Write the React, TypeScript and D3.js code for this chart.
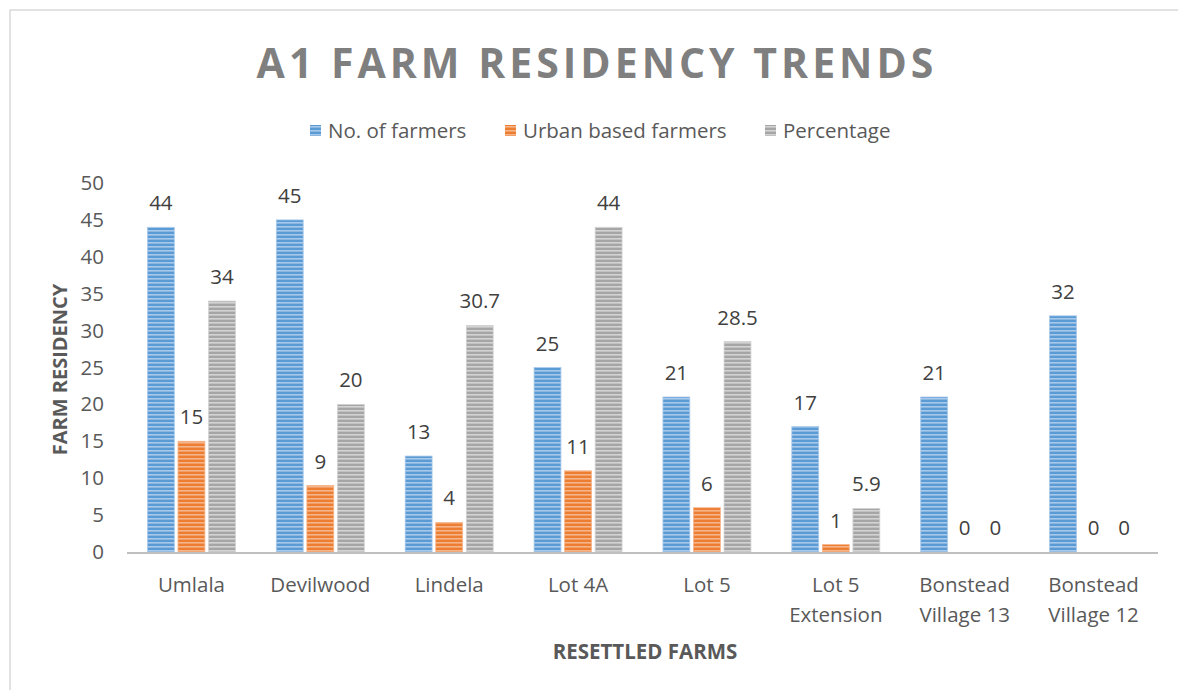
import React from "react";
import * as d3 from "d3";

const categories: string[][] = [
  ["Umlala"],
  ["Devilwood"],
  ["Lindela"],
  ["Lot 4A"],
  ["Lot 5"],
  ["Lot 5", "Extension"],
  ["Bonstead", "Village 13"],
  ["Bonstead", "Village 12"],
];
const seriesNames = ["No. of farmers", "Urban based farmers", "Percentage"];
const farmers = [44, 45, 13, 25, 21, 17, 21, 32];
const urban = [15, 9, 4, 11, 6, 1, 0, 0];
const percentage = [34, 20, 30.7, 44, 28.5, 5.9, 0, 0];
const yTicks = [0, 5, 10, 15, 20, 25, 30, 35, 40, 45, 50];

const colors = ["#5b9bd5", "#ed7d31", "#a5a5a5"];
const lights = ["#a9c9ea", "#f5b48a", "#d3d3d3"];

export default function App() {
  const W = 1178, H = 690;
  const left = 127, right = 1158, top = 183, bottom = 552;
  const series = [farmers, urban, percentage];
  const x = d3.scaleBand<number>().domain(d3.range(categories.length)).range([left, right]).paddingInner(0).paddingOuter(0);
  const y = d3.scaleLinear().domain([0, 50]).range([bottom, top]);
  const step = x.bandwidth();
  const groupW = 88;
  const inner = d3.scaleBand<number>().domain([0, 1, 2]).range([0, groupW]).paddingInner(0.12);
  const font = "'Open Sans', 'Liberation Sans', sans-serif";
  const fs = 20.5;
  const labelFmt = (v: number) => String(v);

  const legendItems = [
    { x: 310, name: seriesNames[0] },
    { x: 505, name: seriesNames[1] },
    { x: 765, name: seriesNames[2] },
  ];

  return (
    <svg width={W} height={H} style={{ position: "absolute", left: 0, top: 0 }} fontFamily={font}>
      <defs>
        {colors.map((c, i) => (
          <pattern key={i} id={`p${i}`} patternUnits="userSpaceOnUse" width={8} height={4}>
            <rect width={8} height={4} fill={c} />
            <rect y={2} width={8} height={1.6} fill={lights[i]} />
          </pattern>
        ))}
      </defs>
      <rect x={0} y={0} width={W} height={H} fill="#fff" />
      <rect x={10} y={10} width={W + 20} height={H + 20} fill="none" stroke="#d9d9d9" strokeWidth={1.5} />
      <text x={597} y={78} textAnchor="middle" fontSize={41} fontWeight="bold" fill="#7f7f7f" letterSpacing={4}>
        A1 FARM RESIDENCY TRENDS
      </text>
      {legendItems.map((l, i) => (
        <g key={i}>
          <rect x={l.x} y={125} width={11} height={11} fill={`url(#p${i})`} />
          <text x={l.x + 18} y={138} fontSize={fs} fill="#595959">{l.name}</text>
        </g>
      ))}
      {yTicks.map((t) => (
        <text key={t} x={104} y={y(t) + 7} textAnchor="end" fontSize={fs} fill="#595959">{t}</text>
      ))}
      <text transform={`translate(67,${(top + bottom) / 2 + 2}) rotate(-90)`} textAnchor="middle" fontSize={20} fontWeight="bold" fill="#595959">
        FARM RESIDENCY
      </text>
      {categories.map((cat, ci) => {
        const cx = (x(ci) as number) + step / 2;
        const g0 = cx - groupW / 2;
        return (
          <g key={ci}>
            {series.map((s, si) => {
              const v = s[ci];
              const bx = g0 + (inner(si) as number);
              const bw = inner.bandwidth();
              return (
                <g key={si}>
                  {v > 0 && (
                    <rect x={bx} y={y(v)} width={bw} height={bottom - y(v)} fill={`url(#p${si})`} stroke={lights[si]} strokeWidth={0.8} />
                  )}
                  <text x={bx + bw / 2} y={y(v) - 17} textAnchor="middle" fontSize={fs} fill="#404040">{labelFmt(v)}</text>
                </g>
              );
            })}
            {cat.map((line, li) => (
              <text key={li} x={cx} y={592 + li * 30} textAnchor="middle" fontSize={fs} fill="#595959">{line}</text>
            ))}
          </g>
        );
      })}
      <line x1={left} x2={right} y1={bottom + 1} y2={bottom + 1} stroke="#bfbfbf" strokeWidth={2} />
      <text x={645} y={659} textAnchor="middle" fontSize={20.5} fontWeight="bold" fill="#595959">RESETTLED FARMS</text>
    </svg>
  );
}
